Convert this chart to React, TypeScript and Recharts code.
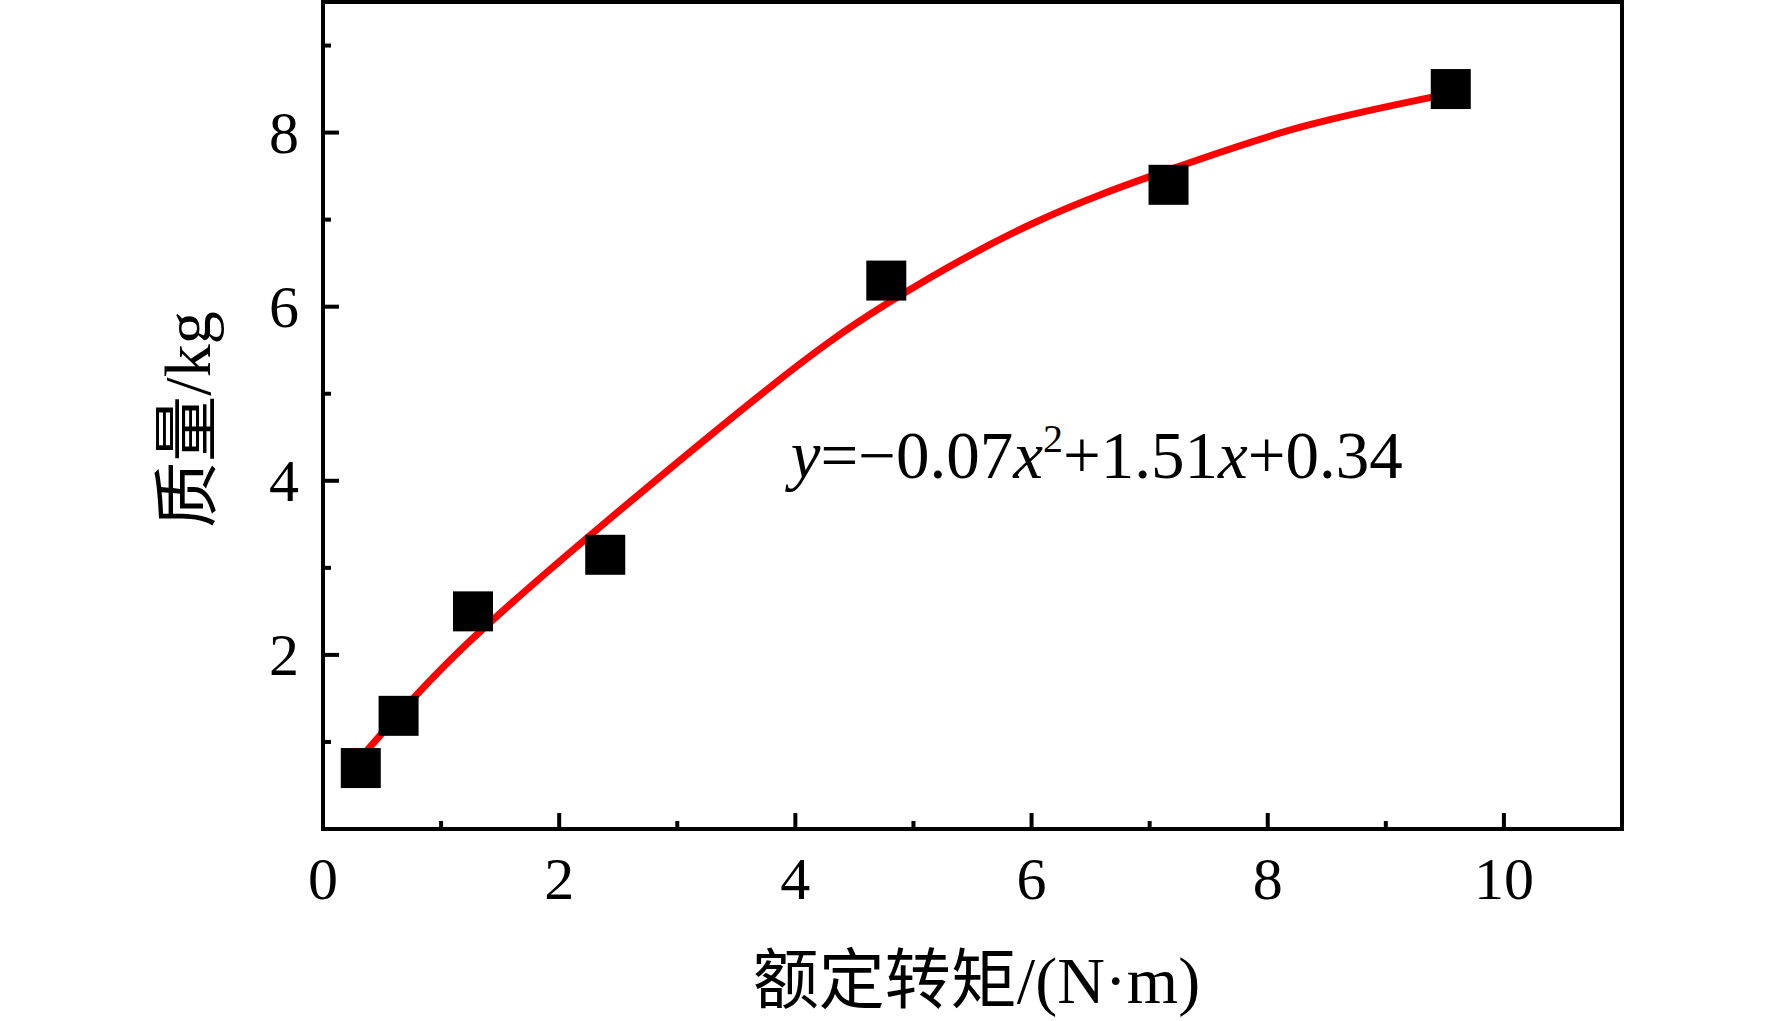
import React from 'react'
import {
  ComposedChart, Scatter, Line, XAxis, YAxis, ReferenceArea, ReferenceDot,
} from 'recharts'

// measured points: rated torque (N·m) vs mass (kg)
const torque = [0.32, 0.64, 1.27, 2.39, 4.77, 7.16, 9.55]
const mass = [0.7, 1.3, 2.5, 3.15, 6.3, 7.4, 8.5]

// red fitted curve
const fitTorque = [0.32, 1.16, 2.39, 3.78, 4.77, 6.0, 7.16, 8.3, 9.55]
const fitMass = [0.82, 2.05, 3.52, 5.07, 6.03, 6.95, 7.57, 8.07, 8.45]

const xTicks = [0, 1, 2, 3, 4, 5, 6, 7, 8, 9, 10]
const xMajor = [0, 2, 4, 6, 8, 10]
const yTicks = [1, 2, 3, 4, 5, 6, 7, 8, 9]
const yMajor = [2, 4, 6, 8]

const SERIF = '"Liberation Serif", "Times New Roman", "Noto Sans CJK SC", serif'

const points = torque.map((x, i) => ({ x, y: mass[i] }))
const fit = fitTorque.map((x, i) => ({ x, y: fitMass[i] }))

function XTick({ x, y, payload }: any) {
  const major = xMajor.includes(payload.value)
  return (
    <g>
      <line x1={x} x2={x} y1={y} y2={y - (major ? 16 : 8)} stroke="#000" strokeWidth={4} />
      {major && (
        <text x={x} y={y + 70} textAnchor="middle" fontSize={60} fontFamily={SERIF} fill="#000">
          {payload.value}
        </text>
      )}
    </g>
  )
}

function YTick({ x, y, payload }: any) {
  const major = yMajor.includes(payload.value)
  return (
    <g>
      <line x1={x} x2={x + (major ? 16 : 8)} y1={y} y2={y} stroke="#000" strokeWidth={4} />
      {major && (
        <text x={x - 24} y={y + 20} textAnchor="end" fontSize={60} fontFamily={SERIF} fill="#000">
          {payload.value}
        </text>
      )}
    </g>
  )
}

function SquareDot({ cx, cy }: any) {
  return <rect x={cx - 20} y={cy - 20} width={40} height={40} fill="#000" />
}

function Equation({ cx, cy }: any) {
  return (
    <text x={cx} y={cy} fontSize={67} fontFamily={SERIF} fill="#000">
      <tspan fontStyle="italic">y</tspan>
      <tspan>=−0.07</tspan>
      <tspan fontStyle="italic">x</tspan>
      <tspan fontSize={40} dy={-26}>2</tspan>
      <tspan dy={26}>+1.51</tspan>
      <tspan fontStyle="italic">x</tspan>
      <tspan>+0.34</tspan>
    </text>
  )
}

export default function App() {
  return (
    <div style={{ width: 1772, height: 1021, background: '#fff' }}>
      <style>{'body{margin:0}'}</style>
      <ComposedChart width={1772} height={1021} margin={{ top: 2, right: 150, left: 0, bottom: 0 }}>
        <XAxis
          type="number" dataKey="x" domain={[0, 11]} ticks={xTicks} interval={0}
          height={192} axisLine={false} tickLine={false} tickSize={0} tickMargin={0}
          tick={<XTick />}
          label={{
            content: ({ viewBox }: any) => (
              <text
                x={viewBox.x + viewBox.width / 2 + 4} y={viewBox.y + 174}
                textAnchor="middle" fontSize={66} fontFamily={SERIF} fill="#000"
              >
                额定转矩/(N·m)
              </text>
            ),
          }}
        />
        <YAxis
          type="number" dataKey="y" domain={[0, 9.5]} ticks={yTicks} interval={0}
          width={323} axisLine={false} tickLine={false} tickSize={0} tickMargin={0}
          tick={<YTick />}
          label={{
            content: ({ viewBox }: any) => {
              const cx = viewBox.x + 187
              const cy = viewBox.y + viewBox.height / 2 + 4
              return (
                <text
                  x={cx} y={cy} transform={`rotate(-90 ${cx} ${cy})`}
                  textAnchor="middle" dominantBaseline="central"
                  fontSize={66} fontFamily={SERIF} fill="#000"
                >
                  质量/kg
                </text>
              )
            },
          }}
        />
        <ReferenceArea x1={0} x2={11} y1={0} y2={9.5} fill="none" stroke="#000" strokeWidth={4} />
        <Scatter data={points} dataKey="y" shape={<SquareDot />} isAnimationActive={false} />
        <Line
          data={fit} dataKey="y" type="natural" stroke="#ff0000" strokeWidth={7}
          strokeLinecap="round" dot={false} activeDot={false} isAnimationActive={false}
        />
        <ReferenceDot x={3.96} y={4.03} r={0} shape={<Equation />} />
      </ComposedChart>
    </div>
  )
}
